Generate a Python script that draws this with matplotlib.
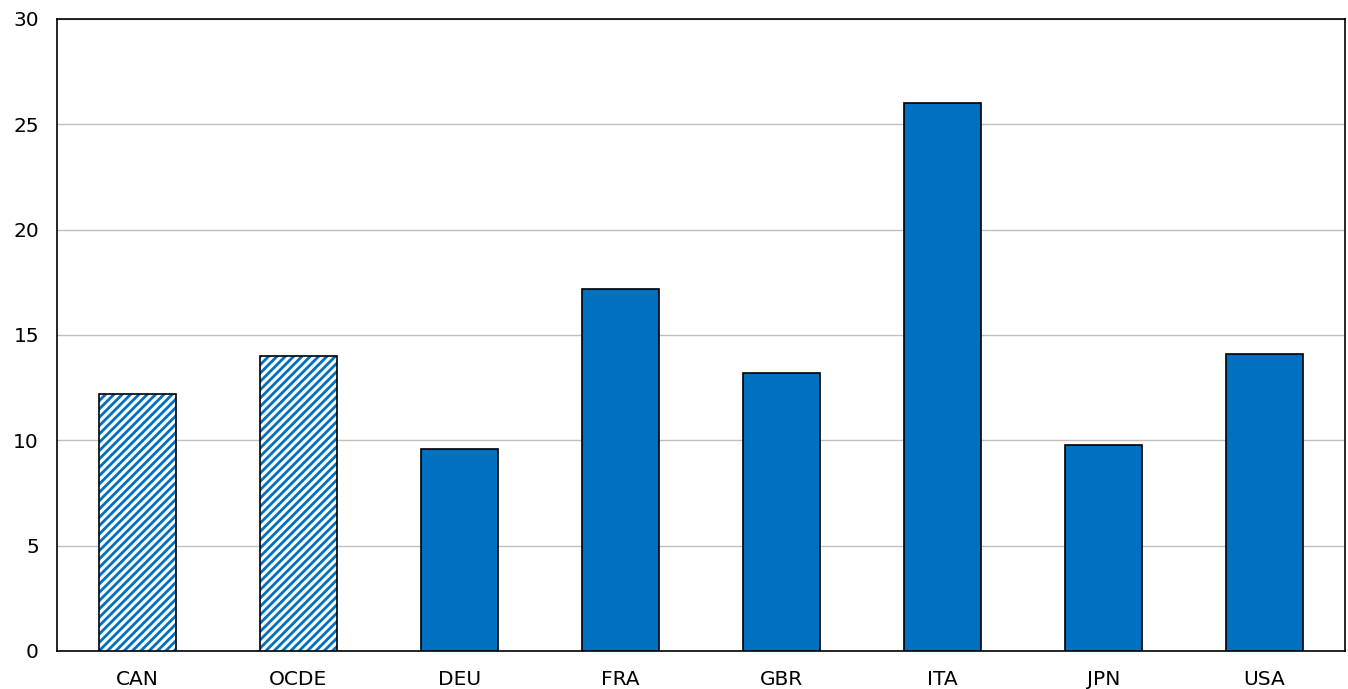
import matplotlib
matplotlib.use("Agg")
import matplotlib.pyplot as plt

categories = ["CAN", "OCDE", "DEU", "FRA", "GBR", "ITA", "JPN", "USA"]
values = [12.2, 14.0, 9.6, 17.2, 13.2, 26.0, 9.8, 14.1]
hatched = [True, True, False, False, False, False, False, False]
yticks = [0, 5, 10, 15, 20, 25, 30]

blue = "#0070c0"
plt.rcParams["hatch.color"] = blue
plt.rcParams["hatch.linewidth"] = 2.0
plt.rcParams["font.family"] = ["DejaVu Sans"]

fig = plt.figure(figsize=(13.48, 6.89), dpi=100)
ax = fig.add_axes([57/1348, 38/689, (1345-57)/1348, (651-19)/689])

x = list(range(len(categories)))
for i, (v, h) in enumerate(zip(values, hatched)):
    if h:
        ax.bar(i, v, width=0.475, facecolor="white", edgecolor=blue,
               hatch="////", linewidth=0, zorder=3)
        ax.bar(i, v, width=0.475, facecolor="none", edgecolor="black",
               linewidth=1.2, zorder=4)
    else:
        ax.bar(i, v, width=0.475, facecolor=blue, edgecolor="black",
               linewidth=1.2, zorder=3)

ax.set_xlim(-0.5, len(categories) - 0.5)
ax.set_ylim(0, 30)
ax.set_yticks(yticks)
ax.set_xticks(x)
ax.set_xticklabels(categories)
ax.tick_params(axis="both", length=0, labelsize=14.5, colors="black")
ax.tick_params(axis="y", pad=13)
ax.tick_params(axis="x", pad=14)
ax.yaxis.grid(True, color="#c0c0c0", linewidth=1.0, zorder=0)
ax.set_axisbelow(True)
for s in ax.spines.values():
    s.set_color("black")
    s.set_linewidth(1.2)

fig.savefig("out.png", dpi=100)
